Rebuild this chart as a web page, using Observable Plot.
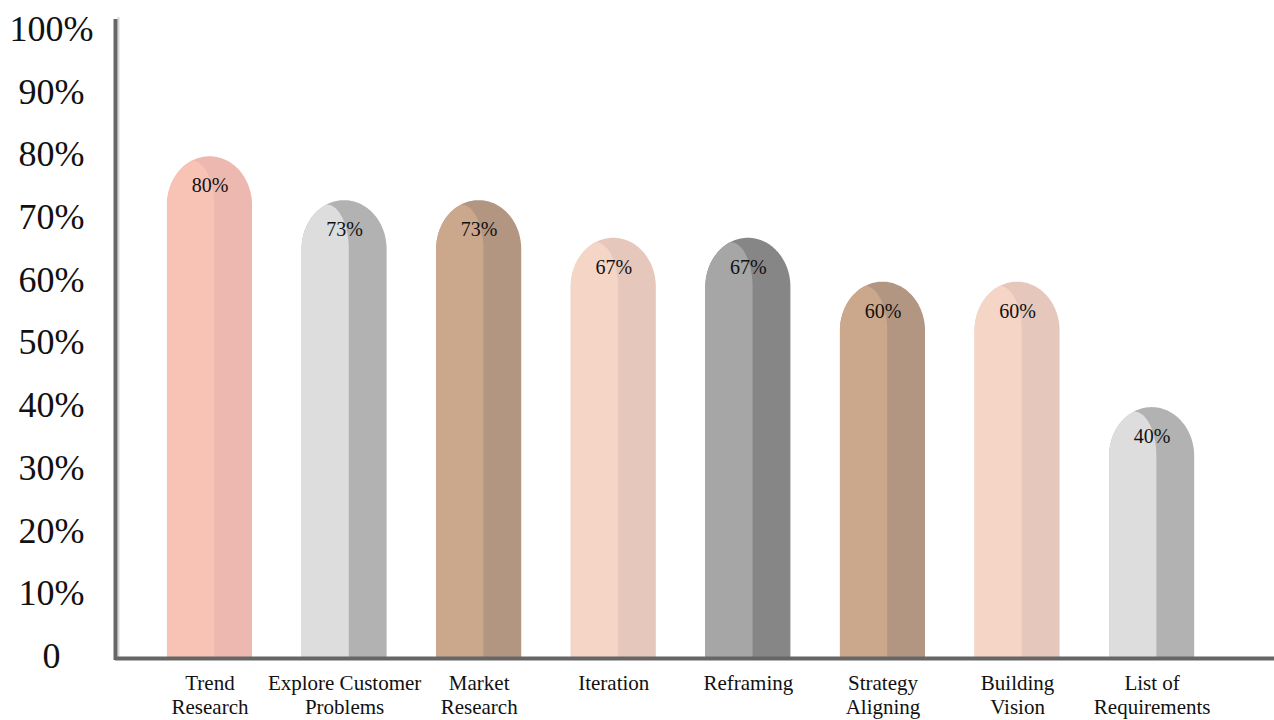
<!DOCTYPE html>
<html><head><meta charset="utf-8">
<script src="https://cdn.jsdelivr.net/npm/d3@7"></script>
<script src="https://cdn.jsdelivr.net/npm/@observablehq/plot@0.6"></script>
<style>body{margin:0;background:#fff;overflow:hidden;}</style>
</head><body><div id="chart"></div>
<script>
const categories = ["Trend\nResearch", "Explore Customer\nProblems", "Market\nResearch", "Iteration", "Reframing", "Strategy\nAligning", "Building\nVision", "List of\nRequirements"];
const values = [80, 73, 73, 67, 67, 60, 60, 40];
const lightColors = ["#F8C2B5", "#DDDDDD", "#CBA78C", "#F5D5C6", "#A6A6A6", "#CBA78C", "#F5D5C6", "#DDDDDD"];
const darkColors = ["#ECB8AF", "#B2B2B2", "#B39682", "#E5C7BB", "#868686", "#B39682", "#E5C7BB", "#B2B2B2"];
const yTicks = [0, 10, 20, 30, 40, 50, 60, 70, 80, 90, 100];

// geometry (drawing constants)
const halfW = 0.316, capH = 7.8, divStart = -0.13, divEnd = 0.035;
const xMin = -0.702, xMax = 7.909, yMax = 102.2;
function outerY(v, c, x) { const t = (x - c) / halfW; return v - capH + capH * Math.sqrt(Math.max(0, 1 - t * t)); }

const outerPts = [], lightPts = [];
values.forEach((v, i) => {
  for (let k = 0; k <= 72; k++) {
    const th = Math.PI * k / 72; const x = i - halfW * Math.cos(th);
    outerPts.push({i, x, y: outerY(v, i, x), fill: darkColors[i]});
  }
  const xa = i + divStart, xb = i + divEnd;
  const thA = Math.acos((i - xa) / halfW);
  for (let k = 0; k <= 30; k++) {
    const th = thA * k / 30; const x = i - halfW * Math.cos(th);
    lightPts.push({i, x, y: outerY(v, i, x), fill: lightColors[i]});
  }
  const ya = outerY(v, i, xa), base = v - capH;
  for (let k = 1; k <= 30; k++) {
    const ph = Math.PI / 2 * k / 30; const x = xa + (xb - xa) * Math.sin(ph);
    const yd = base + (ya - base) * Math.cos(ph);
    lightPts.push({i, x, y: Math.min(outerY(v, i, x), yd), fill: lightColors[i]});
  }
});

const bars = values.map((v, i) => ({i, v}));
const cats = categories.map((c, i) => ({i, c}));

const chart = Plot.plot({
  width: 1274, height: 720,
  marginLeft: 115, marginRight: 0, marginTop: 17, marginBottom: 62,
  x: {domain: [xMin, xMax], axis: null},
  y: {domain: [0, yMax], axis: null},
  color: {type: "identity"},
  style: {fontFamily: "'Liberation Serif', 'Times New Roman', serif", background: "white", color: "#111"},
  marks: [
    Plot.areaY(outerPts, {x: "x", y1: 0, y2: "y", z: "i", fill: "fill"}),
    Plot.areaY(lightPts, {x: "x", y1: 0, y2: "y", z: "i", fill: "fill"}),
    Plot.text(bars, {x: "i", y: "v", dy: 29, text: d => d.v + "%", fontSize: 20, fill: "#111"}),
    Plot.ruleX([xMin], {y1: 0, y2: yMax, dx: 3, stroke: "#d8d8d8", strokeWidth: 2}),
    Plot.ruleY([0], {stroke: "#666666", strokeWidth: 4}),
    Plot.ruleX([xMin], {y1: 0, y2: yMax, dy: 2, stroke: "#666666", strokeWidth: 4}),
    Plot.text(yTicks, {x: xMin, y: d => d, dx: -64, dy: -2, text: d => d === 0 ? "0" : d + "%", textAnchor: "middle", fontSize: 36, fill: "#111"}),
    Plot.text(cats, {x: "i", y: 0, text: "c", lineAnchor: "top", dy: 14, fontSize: 21, lineHeight: 1.15, fill: "#111"})
  ]
});
document.getElementById("chart").appendChild(chart);
</script>
</body></html>
